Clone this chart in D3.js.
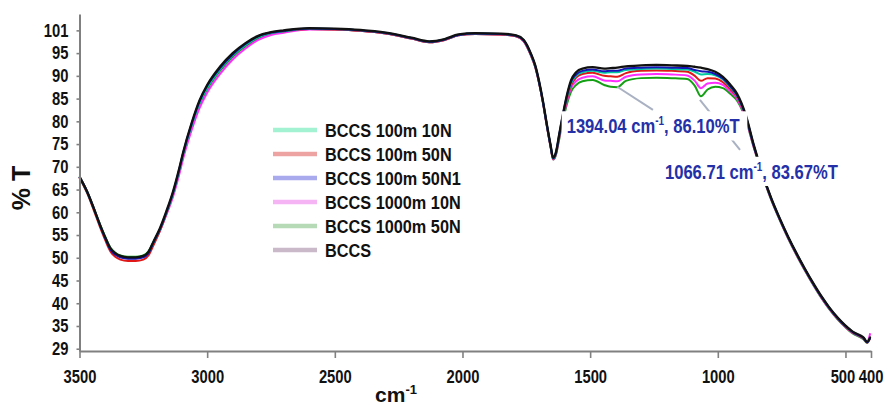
<!DOCTYPE html>
<html><head><meta charset="utf-8">
<script src="https://cdn.jsdelivr.net/npm/d3@7"></script>
<style>
body{margin:0;background:#fff}
svg{display:block}
text{font-family:"Liberation Sans",Arial,sans-serif;font-weight:bold;fill:#111}
</style>
</head><body>
<svg id="chart" width="890" height="405"></svg>
<script>
// ---------------- DATA ----------------
const wavenumbers=[3500,3470,3445,3420,3400,3380,3360,3340,3310,3280,
3250,3230,3210,3185,3160,3134,3110,3095,3060,3030,
3000,2950,2900,2850,2800,2750,2700,2600,2500,2400,
2300,2200,2130,2070,2016,1950,1850,1790,1760,1732,
1715,1700,1685,1670,1655,1645,1635,1620,1605,1590,
1575,1555,1530,1490,1445,1420,1394,1360,1300,1240,
1180,1120,1090,1066,1040,1010,980,950,925,890,
860,820,790,760,725,690,660,625,595,565,
530,500,470,445,430,415,403];

const seriesNames=["BCCS 100m 10N","BCCS 100m 50N","BCCS 100m 50N1","BCCS 1000m 10N","BCCS 1000m 50N","BCCS"];

const t100m10N=[67.7,64.4,60.9,57.2,54.5,52.1,50.9,50.3,50.0,50.0,
50.3,51.2,53.4,56.2,59.8,64.0,69.0,72.5,79.2,84.0,
87.4,91.4,94.5,96.8,98.5,99.4,99.8,100.4,100.3,100.0,
99.4,98.3,97.5,98.0,99.0,99.3,99.2,98.8,97.8,94.7,
92.1,88.6,84.3,79.3,74.6,71.8,72.8,77.2,81.6,85.5,
88.3,90.0,90.8,91.1,90.7,90.8,90.8,91.3,91.5,91.6,
91.5,91.4,90.9,90.3,90.4,90.1,89.2,87.4,85.6,81.0,
74.8,67.6,62.9,58.9,54.6,50.7,47.6,44.2,41.5,39.1,
36.7,35.0,33.6,32.9,32.4,31.4,32.5];

const t100m50N=[67.6,64.2,60.6,56.8,54.0,51.5,50.2,49.6,49.3,49.3,
49.6,50.5,52.8,55.9,59.7,64.1,69.1,72.6,79.4,84.2,
87.6,91.6,94.6,96.9,98.6,99.4,99.8,100.3,100.2,99.9,
99.3,98.2,97.4,97.9,98.9,99.2,99.1,98.7,97.7,94.6,
92.0,88.5,84.2,79.2,74.5,71.7,72.7,77.0,81.3,85.1,
87.9,89.6,90.4,90.7,90.0,89.9,89.8,90.6,91.1,91.2,
91.1,90.9,90.0,88.9,89.5,89.4,88.6,87.0,85.4,80.8,
74.7,67.5,62.8,58.8,54.5,50.6,47.5,44.1,41.4,39.0,
36.6,34.9,33.5,32.8,32.3,31.3,32.4];

const t100m50N1=[67.8,64.5,61.0,57.2,54.4,51.9,50.7,50.1,49.8,49.8,
50.1,51.0,53.4,56.3,60.0,64.3,69.3,72.8,79.6,84.4,
87.8,91.7,94.7,97.0,98.7,99.5,99.9,100.4,100.3,100.0,
99.4,98.3,97.5,98.0,99.0,99.3,99.2,98.8,97.8,94.8,
92.2,88.7,84.4,79.4,74.7,71.9,72.9,77.4,81.9,85.8,
88.7,90.3,91.1,91.4,91.0,91.1,91.1,91.6,91.8,91.9,
91.8,91.7,91.3,91.0,90.9,90.4,89.4,87.6,85.8,81.1,
74.8,67.6,62.9,58.9,54.6,50.7,47.6,44.2,41.5,39.1,
36.7,35.0,33.6,32.9,32.4,31.4,32.4];

const t1000m10N=[67.8,64.5,61.0,57.2,54.4,52.0,50.8,50.2,49.9,49.9,
50.2,51.1,53.2,55.9,59.4,63.4,68.2,71.6,78.2,82.9,
86.3,90.4,93.6,96.0,97.9,99.0,99.5,100.2,100.2,99.9,
99.3,98.2,97.4,97.9,98.9,99.2,99.1,98.7,97.6,94.5,
91.9,88.4,84.1,79.1,74.4,71.6,72.5,76.7,80.9,84.6,
87.3,88.8,89.6,89.9,89.0,88.9,88.8,89.8,90.3,90.4,
90.3,90.1,88.9,87.3,88.3,88.5,88.0,86.5,85.0,80.5,
74.5,67.4,62.7,58.7,54.4,50.5,47.4,44.0,41.3,38.9,
36.5,34.8,33.4,32.7,32.2,31.6,33.4];

const t1000m50N=[67.9,64.6,61.1,57.4,54.7,52.3,51.1,50.5,50.2,50.2,
50.5,51.4,53.5,56.2,59.7,63.8,68.7,72.1,78.8,83.6,
87.0,91.1,94.2,96.5,98.3,99.2,99.7,100.3,100.2,99.9,
99.3,98.2,97.4,97.9,98.9,99.2,99.1,98.7,97.6,94.5,
91.9,88.4,84.1,79.1,74.4,71.6,72.4,76.4,80.5,84.0,
86.5,88.0,88.8,89.1,88.0,87.6,87.5,88.9,89.5,89.6,
89.5,89.3,87.8,85.5,87.0,87.6,87.3,86.0,84.6,80.3,
74.4,67.3,62.6,58.6,54.3,50.4,47.3,43.9,41.2,38.8,
36.4,34.7,33.3,32.6,32.1,31.3,32.8];

const tBCCS=[67.8,64.5,61.0,57.3,54.6,52.2,51.0,50.4,50.1,50.1,
50.4,51.3,53.6,56.5,60.2,64.5,69.5,73.0,79.8,84.6,
88.0,92.0,95.0,97.2,98.8,99.6,100.0,100.5,100.4,100.1,
99.5,98.4,97.6,98.1,99.1,99.4,99.3,98.9,97.9,94.9,
92.3,88.8,84.5,79.5,74.8,72.0,73.0,77.5,82.0,86.0,
89.0,90.8,91.6,91.9,91.6,91.7,91.8,92.1,92.3,92.4,
92.3,92.2,92.0,91.8,91.5,90.9,89.8,88.0,86.1,81.3,
75.0,67.7,63.0,59.0,54.7,50.8,47.7,44.3,41.6,39.2,
36.8,35.1,33.7,33.0,32.5,31.5,32.6];

const seriesValues=[t100m10N,t100m50N,t100m50N1,t1000m10N,t1000m50N,tBCCS];

const yTickValues=[30,35,40,45,50,55,60,65,70,75,80,85,90,95,100];
const yTickLabels=["29","35","40","45","50","55","60","65","70","75","80","85","90","95","101"];
const xTickValues=[3500,3000,2500,2000,1500,1000,500,400];

// annotations (peak readouts)
const annWn=[1394.04,1066.71];
const annT=[86.10,83.67];
const annText=["1394.04 cm","1066.71 cm"];
const annTail=[", 86.10%T",", 83.67%T"];
// leader lines: from point on curve to point near label (data units)
const leadFromWn=[1394,1070], leadFromT=[87.6,84.7];
const leadToWn=[1254,913], leadToT=[82.5,73.7];
const labelWn=[1592,1207], labelT=[77.4,67.4];

// ---------------- STYLE ----------------
const lineColors=["#00c8a0","#e01818","#1414b4","#ff2cff","#14a014","#111111"];
const legendColors=["#a3f2d2","#eea3a3","#a9a9ee","#f5b5f5","#b5dab5","#c9b9c9"];

// ---------------- CHART ----------------
const svg=d3.select("#chart");
const x=d3.scaleLinear().domain([3500,400]).range([79.5,871]);
const y=d3.scaleLinear().domain([29.5,103.6]).range([351,14]);

function squeeze(sel,f){
  sel.each(function(){
    const L=this.getComputedTextLength();
    this.setAttribute("textLength",L*f);
    this.setAttribute("lengthAdjust","spacingAndGlyphs");
  });
}

// lines
const line=d3.line().x(d=>x(d[0])).y(d=>y(d[1])).curve(d3.curveMonotoneX);
const order=[4,3,1,0,2,5];
order.forEach(i=>{
  const pts=wavenumbers.map((w,k)=>[w,seriesValues[i][k]]);
  svg.append("path").attr("d",line(pts)).attr("fill","none")
    .attr("stroke",lineColors[i]).attr("stroke-width",i===5?2.3:2)
    .attr("stroke-linejoin","round");
});

// axes
const axisColor="#808080";
const yAxis=svg.append("g").attr("transform","translate(79.5,0)")
  .call(d3.axisLeft(y).tickValues(yTickValues).tickFormat((d,i)=>yTickLabels[i]).tickSize(3).tickSizeOuter(0).tickPadding(8));
const xAxis=svg.append("g").attr("transform","translate(0,351)")
  .call(d3.axisBottom(x).tickValues(xTickValues).tickFormat(d3.format("d")).tickSize(7).tickSizeOuter(0).tickPadding(12));
[yAxis,xAxis].forEach(g=>{
  g.select(".domain").attr("stroke",axisColor).attr("stroke-width",2);
  g.selectAll(".tick line").attr("stroke",axisColor).attr("stroke-width",1.6);
  g.selectAll(".tick text").attr("fill","#111").style("font-size","18px").style("font-weight","bold")
    .style("font-family","'Liberation Sans',Arial,sans-serif");
});
// the two crowded labels at the right end: 500 slightly left, 400 right-aligned inside the frame
xAxis.selectAll(".tick text")
  .attr("x",d=>d===400?12:(d===500?-3:0))
  .attr("text-anchor",d=>d===400?"end":"middle");
squeeze(yAxis.selectAll(".tick text"),0.82);
squeeze(xAxis.selectAll(".tick text"),0.82);

// axis titles
svg.append("text").attr("transform","translate(21,188) rotate(-90)")
  .attr("text-anchor","middle").attr("dominant-baseline","central")
  .style("font-size","25px").text("% T");
const xt=svg.append("text").attr("x",396).attr("y",402).attr("text-anchor","middle").style("font-size","21px");
xt.append("tspan").text("cm");
xt.append("tspan").attr("dy",-8).style("font-size","13px").text("-1");

// legend
const lg=svg.append("g");
seriesNames.forEach((n,i)=>{
  const cy=130+i*24;
  lg.append("line").attr("x1",273).attr("x2",317).attr("y1",cy).attr("y2",cy)
    .attr("stroke",legendColors[i]).attr("stroke-width",4.5);
  lg.append("text").attr("x",325).attr("y",cy+6.5).style("font-size","18.5px").text(n);
});
squeeze(lg.selectAll("text"),0.88);

// annotations
annWn.forEach((w,i)=>{
  svg.append("line").attr("x1",x(leadFromWn[i])).attr("y1",y(leadFromT[i]))
    .attr("x2",x(leadToWn[i])).attr("y2",y(leadToT[i]))
    .attr("stroke","#a9b1c2").attr("stroke-width",2);
});
annWn.forEach((w,i)=>{
  const g=svg.append("g");
  const rect=g.append("rect").attr("fill","#fff");
  const tg=g.append("g").attr("transform",`translate(${x(labelWn[i])},${y(labelT[i])}) scale(0.83,1)`);
  const t=tg.append("text").style("font-size","20px").style("fill","#2430a8");
  t.append("tspan").text(annText[i]);
  t.append("tspan").attr("dy",-8).style("font-size","12px").text("-1");
  t.append("tspan").attr("dy",8).text(annTail[i]);
  const bb=t.node().getBBox();
  const x0=x(labelWn[i])+bb.x*0.83, w0=bb.width*0.83;
  rect.attr("x",x0-5).attr("y",y(labelT[i])+bb.y-3).attr("width",w0+12).attr("height",bb.height+6);
});
</script>
</body></html>
